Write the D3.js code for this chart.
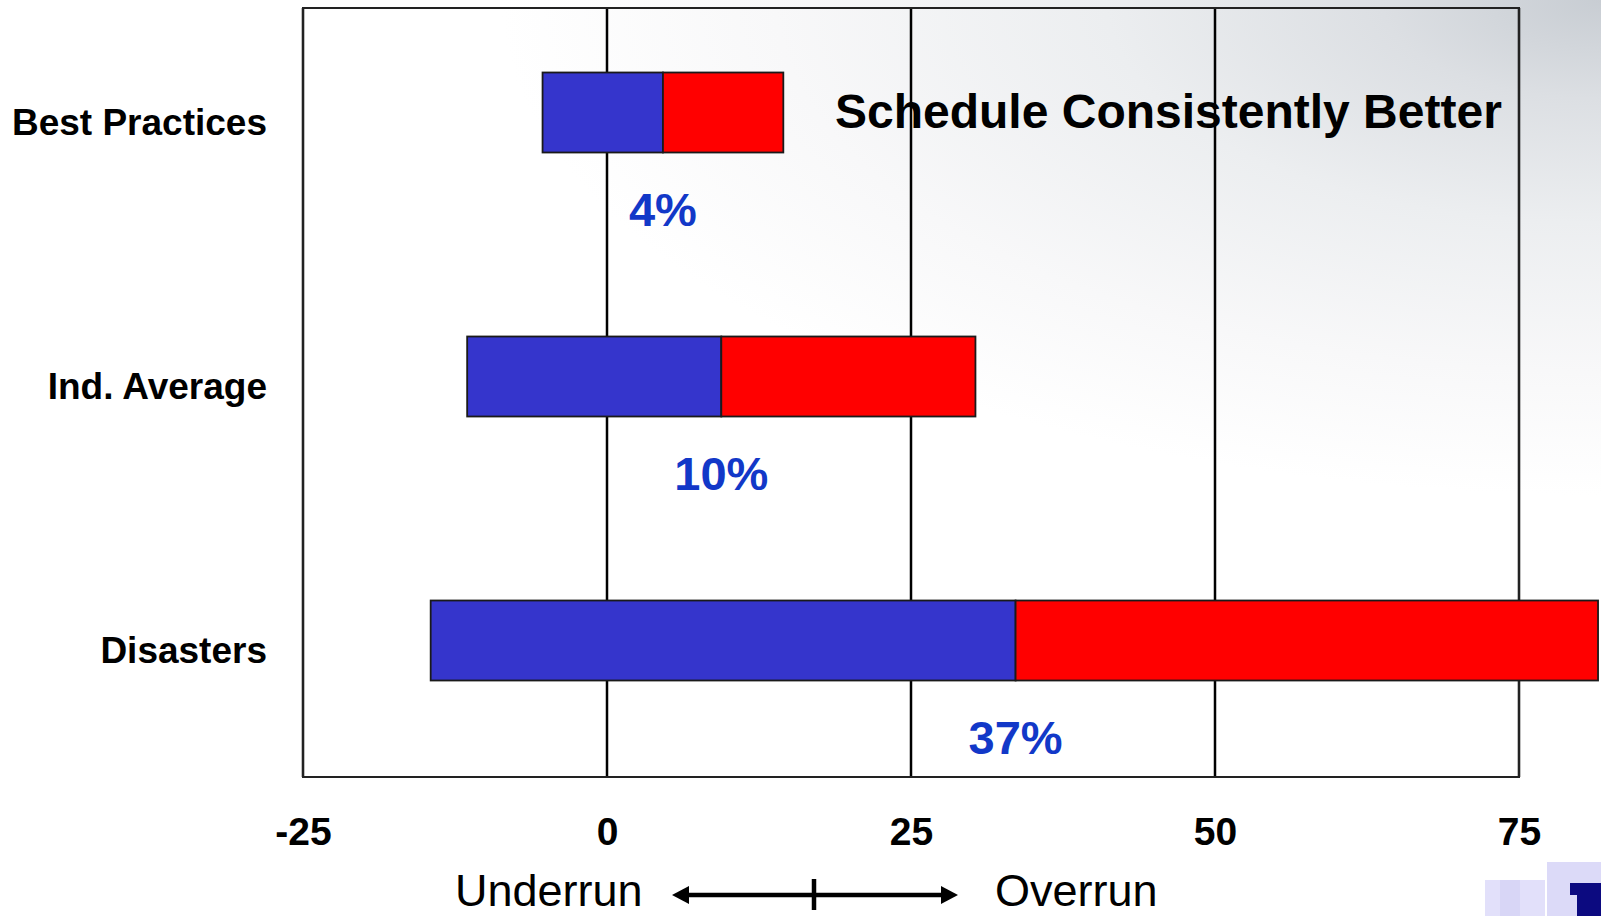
<!DOCTYPE html>
<html>
<head>
<meta charset="utf-8">
<script src="https://cdn.jsdelivr.net/npm/d3@7"></script>
<style>
  body { margin: 0; background: #fff; }
  svg { display: block; font-family: "Liberation Sans", Arial, sans-serif; }
</style>
</head>
<body>
<svg width="1601" height="916"></svg>
<script>
// data
const categories = ["Best Practices", "Ind. Average", "Disasters"];
const lowValues  = [-5.3, -11.5, -14.5];
const midValues  = [4.6, 9.4, 33.6];
const highValues = [14.5, 30.3, 81.5];
const pctLabels  = ["4%", "10%", "37%"];
const tickValues = [-25, 0, 25, 50, 75];

const svg = d3.select("svg");

// background shading like the slide (grey in the top right corner)
const defs = svg.append("defs");
const grad = defs.append("radialGradient")
  .attr("id", "bg")
  .attr("gradientUnits", "userSpaceOnUse")
  .attr("cx", 1601).attr("cy", 0).attr("r", 1100)
  .attr("gradientTransform", "translate(1601,0) scale(1,0.45) translate(-1601,0)");
grad.append("stop").attr("offset", 0).attr("stop-color", "#c8cdd3");
grad.append("stop").attr("offset", 0.2).attr("stop-color", "#dcdfe3");
grad.append("stop").attr("offset", 0.45).attr("stop-color", "#eceef0");
grad.append("stop").attr("offset", 0.75).attr("stop-color", "#f8f8f9");
grad.append("stop").attr("offset", 1).attr("stop-color", "#ffffff");
svg.append("rect").attr("width", 1601).attr("height", 916).attr("fill", "url(#bg)");

const x = d3.scaleLinear().domain([-25, 75]).range([303, 1519]);
const y = d3.scalePoint().domain(categories).range([112.5, 640.5]);
const plotTop = 8, plotBottom = 777, barH = 80;

// grid lines
svg.append("g")
  .selectAll("line")
  .data(tickValues)
  .enter()
  .append("line")
  .attr("x1", d => x(d)).attr("x2", d => x(d))
  .attr("y1", plotTop).attr("y2", plotBottom)
  .attr("stroke", "#000")
  .attr("stroke-width", 2.5);

// frame
svg.append("rect")
  .attr("x", x(-25)).attr("y", plotTop)
  .attr("width", x(75) - x(-25)).attr("height", plotBottom - plotTop)
  .attr("fill", "none")
  .attr("stroke", "#222")
  .attr("stroke-width", 2);

const rows = categories.map((c, i) => ({
  name: c, low: lowValues[i], mid: midValues[i], high: highValues[i], pct: pctLabels[i]
}));

const bars = svg.append("g");
bars.selectAll(".under")
  .data(rows)
  .enter()
  .append("rect")
  .classed("under", true)
  .attr("x", d => x(d.low))
  .attr("y", d => y(d.name) - barH / 2)
  .attr("width", d => x(d.mid) - x(d.low))
  .attr("height", barH)
  .attr("fill", "#3535cc")
  .attr("stroke", "#1a1a1a")
  .attr("stroke-width", 1.8);

bars.selectAll(".over")
  .data(rows)
  .enter()
  .append("rect")
  .classed("over", true)
  .attr("x", d => x(d.mid))
  .attr("y", d => y(d.name) - barH / 2)
  .attr("width", d => x(d.high) - x(d.mid))
  .attr("height", barH)
  .attr("fill", "#ff0000")
  .attr("stroke", "#1a1a1a")
  .attr("stroke-width", 1.8);

// percent labels
svg.append("g")
  .selectAll("text")
  .data(rows)
  .enter()
  .append("text")
  .attr("x", d => x(d.mid))
  .attr("y", d => y(d.name) + 113.5)
  .attr("text-anchor", "middle")
  .attr("font-size", 47)
  .attr("font-weight", "bold")
  .attr("fill", "#1238c8")
  .text(d => d.pct);

// category labels
svg.append("g")
  .selectAll("text")
  .data(categories)
  .enter()
  .append("text")
  .attr("x", 267)
  .attr("y", d => y(d) + 22)
  .attr("text-anchor", "end")
  .attr("font-size", 37)
  .attr("font-weight", "bold")
  .attr("fill", "#000")
  .text(d => d);

// x axis
const axis = svg.append("g")
  .attr("transform", "translate(0,812)")
  .call(d3.axisBottom(x).tickValues(tickValues).tickSize(0).tickPadding(0).tickFormat(d => String(d)));
axis.select(".domain").remove();
axis.selectAll("text")
  .attr("dy", null)
  .attr("y", 33)
  .attr("font-size", 39)
  .attr("font-weight", "bold")
  .attr("font-family", "'Liberation Sans', Arial, sans-serif")
  .attr("fill", "#000");

// title
svg.append("text")
  .attr("x", 835).attr("y", 128)
  .attr("font-size", 48)
  .attr("font-weight", "bold")
  .attr("fill", "#000")
  .text("Schedule Consistently Better");

// underrun / overrun legend
svg.append("text")
  .attr("x", 455).attr("y", 906)
  .attr("font-size", 45)
  .attr("fill", "#000")
  .text("Underrun");
svg.append("text")
  .attr("x", 995).attr("y", 906)
  .attr("font-size", 45)
  .attr("fill", "#000")
  .text("Overrun");

const arrow = svg.append("g");
arrow.append("line")
  .attr("x1", 685).attr("x2", 945)
  .attr("y1", 895).attr("y2", 895)
  .attr("stroke", "#000").attr("stroke-width", 4.5);
arrow.append("path")
  .attr("d", "M672,895 L689,886 L689,904 Z")
  .attr("fill", "#000");
arrow.append("path")
  .attr("d", "M958,895 L941,886 L941,904 Z")
  .attr("fill", "#000");
arrow.append("line")
  .attr("x1", 814).attr("x2", 814)
  .attr("y1", 879).attr("y2", 910)
  .attr("stroke", "#000").attr("stroke-width", 4.5);

// corner logo fragment
const logo = svg.append("g");
logo.append("rect").attr("x", 1485).attr("y", 880).attr("width", 60).attr("height", 36).attr("fill", "#e2e0fa");
logo.append("rect").attr("x", 1500).attr("y", 880).attr("width", 20).attr("height", 36).attr("fill", "#d8d6f6");
logo.append("rect").attr("x", 1547).attr("y", 862).attr("width", 54).attr("height", 54).attr("fill", "#dcdaf8");
logo.append("rect").attr("x", 1570).attr("y", 883).attr("width", 31).attr("height", 12).attr("fill", "#0c0a80");
logo.append("rect").attr("x", 1577).attr("y", 883).attr("width", 24).attr("height", 33).attr("fill", "#0c0a80");
</script>
</body>
</html>
